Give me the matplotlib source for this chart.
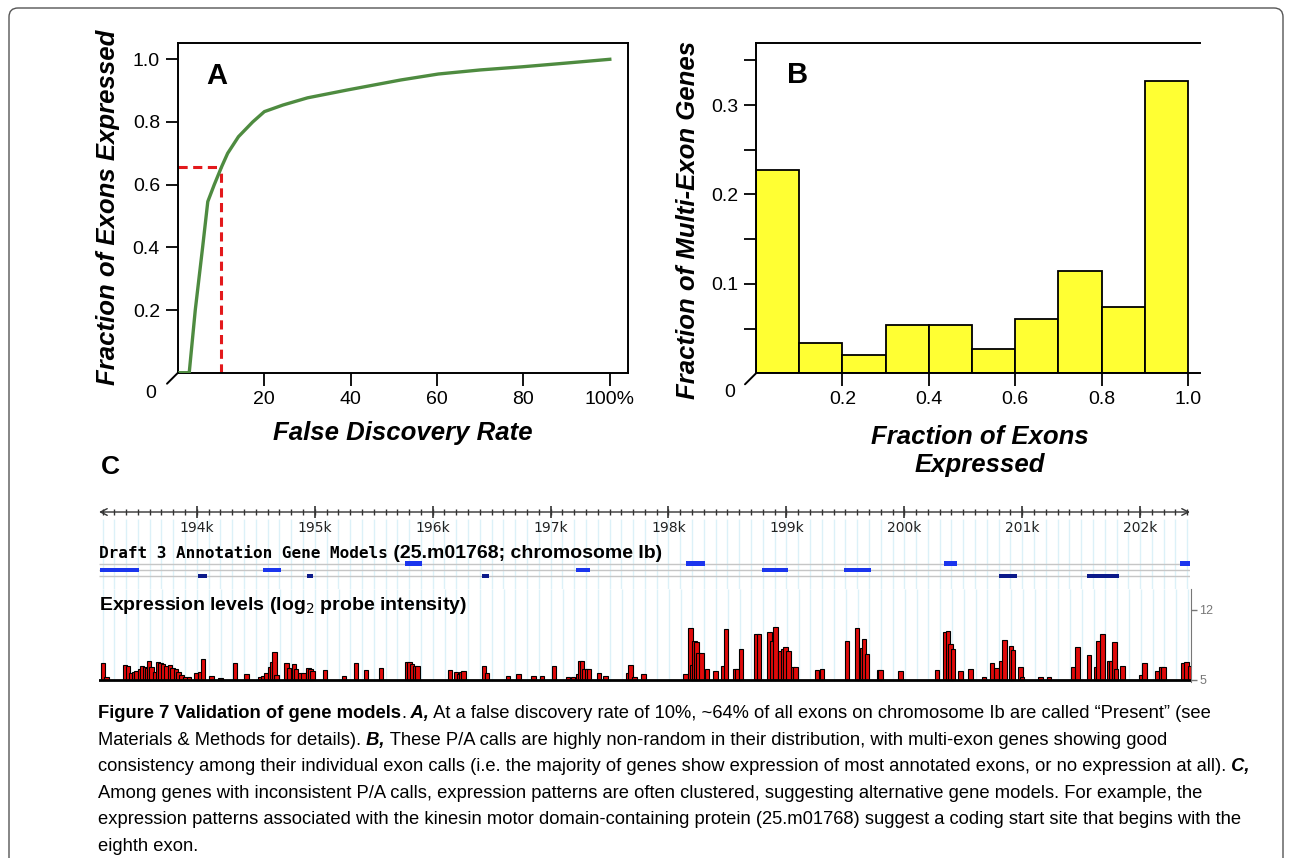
import numpy as np
import matplotlib
matplotlib.use("Agg")
import matplotlib.pyplot as plt
from matplotlib.patches import FancyBboxPatch
from matplotlib.transforms import IdentityTransform

W, H = 1290, 858
plt.rcParams['font.family'] = ['Liberation Sans', 'DejaVu Sans']

# ---- panel A: fraction of exons expressed vs FDR
fdr_pct = [0, 2.6, 4.0, 5.7, 6.9, 8.4, 10.1, 11.5, 14.0, 17.3, 20.0, 24.3,
           30.0, 39.2, 51.6, 60.3, 70.0, 79.7, 90.0, 100.0]
frac_exons = [0, 0, 0.20, 0.40, 0.546, 0.60, 0.657, 0.70, 0.753, 0.80, 0.833, 0.854,
              0.877, 0.902, 0.934, 0.953, 0.966, 0.976, 0.988, 1.0]
fdr_cut = 10
frac_cut = 0.657

# ---- panel B: histogram of per-gene fraction of exons expressed
bin_left = [0.0, 0.1, 0.2, 0.3, 0.4, 0.5, 0.6, 0.7, 0.8, 0.9]
gene_frac = [0.227, 0.034, 0.0205, 0.054, 0.054, 0.027, 0.061, 0.114, 0.0745, 0.327]

# ---- panel C: genome browser view (bp)
view_start, view_end = 193170, 202423
row1_exons = [(195764, 195908), (198148, 198309), (200336, 200446), (202338, 202439)]
row2_exons = [(193177, 193508), (194560, 194712), (197215, 197333), (198792, 199013),
              (199488, 199717)]
row3_exons = [(194008, 194085), (194933, 194984), (196417, 196477), (200802, 200955),
              (201549, 201820)]

probe_pos = [193205, 193234, 193389, 193417, 193446, 193466, 193489, 193517, 193536, 193559,
             193578, 193595, 193616, 193644, 193672, 193692, 193714, 193743, 193771, 193794,
             193822, 193845, 193870, 193898, 193935, 193992, 194025, 194053, 194125, 194201,
             194322, 194422, 194534, 194562, 194591, 194619, 194642, 194656, 194676, 194761,
             194780, 194823, 194840, 194874, 194902, 194944, 194964, 194981, 195086, 195247,
             195349, 195433, 195558, 195779, 195801, 195824, 195849, 195869, 196146, 196197,
             196220, 196242, 196259, 196434, 196457, 196635, 196725, 196853, 196924, 197028,
             197144, 197187, 197234, 197249, 197263, 197283, 197305, 197325, 197410, 197461,
             197658, 197673, 197707, 197785, 198139, 198182, 198199, 198216, 198233, 198252,
             198275, 198323, 198394, 198464, 198484, 198563, 198578, 198612, 198741, 198762,
             198854, 198875, 198903, 198945, 198968, 198987, 199015, 199053, 199075, 199256,
             199299, 199511, 199596, 199638, 199652, 199680, 199779, 199793, 199963, 200274,
             200345, 200364, 200387, 200410, 200472, 200557, 200669, 200741, 200777, 200817,
             200845, 200902, 200915, 200981, 200995, 201150, 201221, 201424, 201462, 201560,
             201625, 201642, 201676, 201736, 201750, 201778, 201792, 201843, 202004, 202032,
             202140, 202174, 202191, 202357, 202389, 202417]
probe_level = [6.73, 5.33, 6.5, 6.43, 5.67, 5.83, 5.93, 6.07, 6.4, 6.33,
               6.17, 6.93, 6.33, 5.83, 6.83, 6.73, 6.6, 6.4, 6.5, 6.17,
               6.07, 5.83, 5.5, 5.33, 5.27, 5.67, 5.83, 7.07, 5.4, 5.23,
               6.67, 5.6, 5.33, 5.4, 5.67, 6.33, 6.83, 7.77, 5.5, 6.67,
               6.17, 6.6, 6.07, 5.73, 5.67, 6.23, 6.07, 5.9, 6.0, 5.4,
               6.73, 6.0, 6.23, 6.8, 6.8, 6.57, 6.4, 6.4, 6.0, 5.83,
               5.6, 5.83, 5.9, 6.4, 5.67, 5.4, 5.6, 5.4, 5.4, 6.4,
               5.27, 5.27, 5.6, 6.93, 6.93, 6.1, 6.1, 6.1, 5.73, 5.4,
               5.73, 6.5, 5.27, 5.6, 5.6, 10.17, 6.5, 8.93, 8.83, 7.67,
               7.67, 6.1, 5.9, 6.43, 10.07, 6.1, 6.1, 8.07, 9.6, 9.6,
               9.77, 8.93, 10.33, 7.93, 8.07, 8.33, 7.93, 6.27, 6.27, 6.0,
               6.13, 8.93, 10.17, 8.23, 9.07, 7.6, 6.0, 6.0, 5.87, 6.0,
               9.83, 9.93, 8.6, 8.1, 5.87, 6.1, 5.27, 6.67, 6.2, 6.93,
               9.0, 8.43, 8.0, 6.33, 5.33, 5.27, 5.27, 6.33, 8.33, 7.53,
               6.33, 8.87, 9.6, 6.93, 6.93, 8.77, 6.1, 6.43, 5.53, 6.67,
               5.93, 6.33, 6.33, 6.67, 6.77, 6.43]
expr_ticks = [5, 12]

fig = plt.figure(figsize=(12.9, 8.58), dpi=100)


def px_axes(l, t, r, b):
    return fig.add_axes([l / W, 1 - b / H, (r - l) / W, (b - t) / H])


def px_text(x, y, s, **kw):
    return fig.text(x / W, 1 - y / H, s, **kw)


# outer rounded frame
fig.add_artist(FancyBboxPatch((9, -30), 1274, 880, boxstyle='round,pad=0,rounding_size=9',
                              transform=IdentityTransform(), fill=False,
                              edgecolor='#555555', lw=1))

lab = dict(fontsize=18.5, fontweight='bold', fontstyle='italic')

# ---------------- panel A
axA = px_axes(178, 43.3, 627.5, 372.7)
axA.plot(fdr_pct, frac_exons, color='#4e8b40', lw=2.4, zorder=3)
axA.plot([0, fdr_cut], [frac_cut, frac_cut], color='#e3191c', lw=2.2, ls=(0, (3, 1.8)), zorder=2)
axA.plot([fdr_cut, fdr_cut], [0, frac_cut], color='#e3191c', lw=2.2, ls=(0, (3, 1.8)), zorder=2)
axA.set_xlim(0, 104.1)
axA.set_ylim(0, 1.051)
axA.set_xticks([20, 40, 60, 80, 100], ['20', '40', '60', '80', '100%'])
axA.set_yticks([0.2, 0.4, 0.6, 0.8, 1.0], ['0.2', '0.4', '0.6', '0.8', '1.0'])
axA.text(0.087, 0.90, 'A', transform=axA.transAxes, fontsize=21, fontweight='bold',
         ha='center', va='center')
px_text(151, 393, '0', fontsize=14, ha='center', va='center')
px_text(403, 433, 'False Discovery Rate', ha='center', va='center', **lab)
px_text(108, 207, 'Fraction of Exons Expressed', ha='center', va='center', rotation=90, **lab)

# ---------------- panel B
axB = px_axes(756, 43.3, 1200, 373.3)
axB.bar(bin_left, gene_frac, width=0.1, align='edge', color='#ffff33',
        edgecolor='black', lw=1.3)
axB.set_xlim(0, 1.0278)
axB.set_ylim(0, 0.369)
axB.set_xticks([0.2, 0.4, 0.6, 0.8, 1.0], ['0.2', '0.4', '0.6', '0.8', '1.0'])
axB.set_yticks([0.1, 0.2, 0.3], ['0.1', '0.2', '0.3'])
axB.set_yticks([0.05, 0.15, 0.25, 0.35], minor=True)
axB.spines['right'].set_visible(False)
axB.text(0.093, 0.905, 'B', transform=axB.transAxes, fontsize=21, fontweight='bold',
         ha='center', va='center')
px_text(730, 392, '0', fontsize=14, ha='center', va='center')
px_text(980, 451, 'Fraction of Exons\nExpressed', ha='center', va='center',
        linespacing=1.2, **lab)
px_text(688, 220, 'Fraction of Multi-Exon Genes', ha='center', va='center', rotation=90, **lab)

for ax in (axA, axB):
    for sp in ax.spines.values():
        sp.set_linewidth(1.4)
    ax.tick_params(which='both', direction='out', length=9, width=1.3, labelsize=14, pad=4)
    ax.annotate('', xy=(0, 0), xycoords='axes fraction', xytext=(-11, -11),
                textcoords='offset pixels',
                arrowprops=dict(arrowstyle='-', lw=1.4, color='black',
                                shrinkA=0, shrinkB=0))

# ---------------- panel C
px_text(110, 467, 'C', fontsize=19, fontweight='bold', ha='center', va='center')

grid_x = np.arange(193200, 202500, 100)
minor_x = np.arange(193200, 202500, 100)
major_x = np.arange(194000, 202500, 1000)

axT = px_axes(99, 496, 1190, 589)
axT.set_xlim(view_start, view_end)
axT.set_ylim(589, 496)
axT.axis('off')
axT.vlines(grid_x, 519, 589, color='#dcf1f8', lw=1, zorder=0)
axT.annotate('', xy=(view_end, 512), xytext=(view_start, 512),
             arrowprops=dict(arrowstyle='<->', lw=1, color='#333333',
                             shrinkA=0, shrinkB=0, mutation_scale=12))
axT.vlines(minor_x, 509, 515, color='#333333', lw=1)
axT.vlines(major_x, 506, 518, color='#333333', lw=1.2)
for m in major_x:
    axT.text(m, 528, '%dk' % (m // 1000), ha='center', va='center', fontsize=10,
             family='DejaVu Sans', color='#222222')

row_y = [563.5, 570, 576]
axT.hlines(row_y, view_start, view_end, color='#c6c6c6', lw=1, zorder=1)
for y, exons, col in zip(row_y, [row1_exons, row2_exons, row3_exons],
                         ['#1b35ee', '#1b35ee', '#0c1a8a']):
    axT.broken_barh([(s, e - s) for s, e in exons], (y - 2.3, 4.6), facecolor=col, zorder=2)

axE = px_axes(99, 589, 1190.7, 682)
axE.set_xlim(view_start, view_end)
axE.set_ylim(4.8, 14.1)
axE.vlines(grid_x, 4.8, 14.1, color='#dcf1f8', lw=1, zorder=0)
axE.bar(probe_pos, np.array(probe_level) - 5, bottom=5, width=38, color='#e00a0a',
        edgecolor='black', lw=0.8, zorder=2)
axE.axhline(5, color='black', lw=2, zorder=3)
for sp in ['top', 'left', 'bottom']:
    axE.spines[sp].set_visible(False)
axE.spines['right'].set_color('#777777')
axE.set_xticks([])
axE.yaxis.tick_right()
axE.set_yticks(expr_ticks, [str(v) for v in expr_ticks])
axE.tick_params(axis='y', length=4, width=1, colors='#777777', labelsize=9, pad=2)

# track labels
renderer = fig.canvas.get_renderer()


def put_runs(x, y, runs):
    for s, kw in runs:
        t = px_text(x, y, s, va='baseline', **kw)
        x = t.get_window_extent(renderer).x1


put_runs(99, 558, [('Draft 3 Annotation Gene Models',
                    dict(family='DejaVu Sans Mono', fontweight='bold', fontsize=11.5)),
                   (' (25.m01768; chromosome Ib)', dict(fontweight='bold', fontsize=14))])
px_text(99, 605, r'Expression levels (log$_2$ probe intensity)', fontsize=14,
        fontweight='bold', va='center', ha='left')

# ---------------- caption
cs = 13.2
reg = dict(fontsize=cs)
bold = dict(fontsize=cs, fontweight='bold')
bi = dict(fontsize=cs, fontweight='bold', fontstyle='italic')
lines = [
    [('Figure 7 Validation of gene models', bold), ('.', reg), (' A,', bi),
     (' At a false discovery rate of 10%, ~64% of all exons on chromosome Ib are called \u201cPresent\u201d (see', reg)],
    [('Materials & Methods for details).', reg), (' B,', bi),
     (' These P/A calls are highly non-random in their distribution, with multi-exon genes showing good', reg)],
    [('consistency among their individual exon calls (i.e. the majority of genes show expression of most annotated exons, or no expression at all).', reg),
     (' C,', bi)],
    [('Among genes with inconsistent P/A calls, expression patterns are often clustered, suggesting alternative gene models. For example, the', reg)],
    [('expression patterns associated with the kinesin motor domain-containing protein (25.m01768) suggest a coding start site that begins with the', reg)],
    [('eighth exon.', reg)],
]
for i, runs in enumerate(lines):
    put_runs(98, 718 + i * 26.6, runs)

fig.savefig('out.png', dpi=100)
